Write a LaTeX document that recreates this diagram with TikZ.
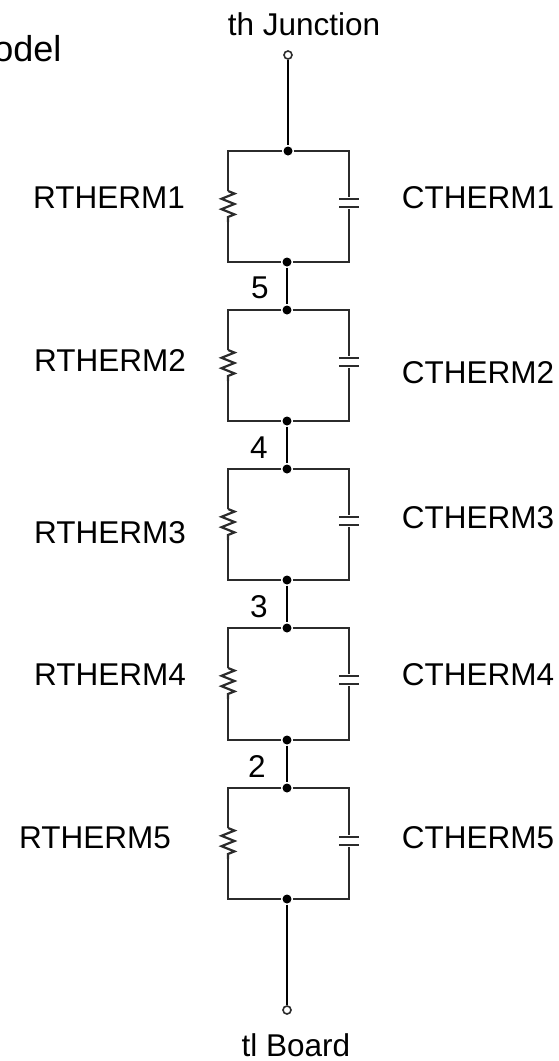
\documentclass[tikz,border=0pt]{standalone}
\usepackage{xcolor}
\usepackage{fontspec}
\setmainfont{Liberation Sans}
\usetikzlibrary{decorations.pathmorphing}
\definecolor{wire}{HTML}{2B2B2B}
\tikzset{
  dot/.style={circle,fill=black,inner sep=0pt,minimum size=9pt},
  terminal/.style={circle,draw=wire,fill=white,line width=1.6pt,inner sep=0pt,minimum size=8pt},
  plate/.style={rectangle,fill=wire,inner sep=0pt,minimum width=20pt,minimum height=2.2pt},
  label/.style={font=\fontsize{31.5}{36}\selectfont,text=black,inner sep=0pt},
  resistor/.style={decorate,decoration={zigzag,segment length=10.4pt,amplitude=6.5pt}}
}
\begin{document}
\begin{tikzpicture}[x=1pt,y=-1pt,line width=2.2pt,draw=wire]
        \useasboundingbox (0,0) rectangle (559,1061);
        \begin{scope}[every node/.style={label}]
          \node[anchor=base east,font=\fontsize{36}{40}\selectfont] (title) at (62.5,61) {odel};
          \node (junction) at (304,24) {th Junction};
          \node (board) at (296,1045) {tl Board};
          \node (rlabel1) at (109,198) {RTHERM1};
          \node (rlabel2) at (110,360) {RTHERM2};
          \node (rlabel3) at (110,533) {RTHERM3};
          \node (rlabel4) at (110,675) {RTHERM4};
          \node (rlabel5) at (95,838) {RTHERM5};
          \node (clabel1) at (478,198) {CTHERM1};
          \node (clabel2) at (478,373) {CTHERM2};
          \node (clabel3) at (478,518) {CTHERM3};
          \node (clabel4) at (478,675) {CTHERM4};
          \node (clabel5) at (478,838) {CTHERM5};
          \node (n5) at (260,288) {5};
          \node (n4) at (259,448) {4};
          \node (n3) at (259,607) {3};
          \node (n2) at (257,766) {2};
        \end{scope}
        \node[terminal] (tin) at (288,55) {};
        \node[terminal] (tout) at (287,1010) {};
        \begin{scope}[every node/.style={dot}]
          \node (t1) at (288,151) {};
          \node (b1) at (287,262) {};
          \node (t2) at (287,310) {};
          \node (b2) at (287,421) {};
          \node (t3) at (287,469) {};
          \node (b3) at (287,580) {};
          \node (t4) at (287,628) {};
          \node (b4) at (287,740) {};
          \node (t5) at (287,788) {};
          \node (b5) at (287,899) {};
        \end{scope}
        % resistor ends
        \coordinate (r1a) at (228,191);
        \coordinate (r1b) at (228,222);
        \coordinate (r2a) at (228,350);
        \coordinate (r2b) at (228,381);
        \coordinate (r3a) at (228,509);
        \coordinate (r3b) at (228,540);
        \coordinate (r4a) at (228,668);
        \coordinate (r4b) at (228,699);
        \coordinate (r5a) at (228,828);
        \coordinate (r5b) at (228,859);
        % capacitor plates
        \begin{scope}[every node/.style={plate}]
          \node (c1a) at (349,199) {};
          \node (c1b) at (349,207) {};
          \node (c2a) at (349,358) {};
          \node (c2b) at (349,366) {};
          \node (c3a) at (349,517) {};
          \node (c3b) at (349,525) {};
          \node (c4a) at (349,676) {};
          \node (c4b) at (349,684) {};
          \node (c5a) at (349,837) {};
          \node (c5b) at (349,845) {};
        \end{scope}
        % vertical links
        \draw[black] (tin) -- (t1);
        \draw[black] (b1) -- (t2);
        \draw[black] (b2) -- (t3);
        \draw[black] (b3) -- (t4);
        \draw[black] (b4) -- (t5);
        \draw[black] (b5) -- (tout);
        % stages
        \draw (t1) -| (r1a); \draw[resistor] (r1a) -- (r1b); \draw (r1b) |- (b1);
        \draw (t2) -| (r2a); \draw[resistor] (r2a) -- (r2b); \draw (r2b) |- (b2);
        \draw (t3) -| (r3a); \draw[resistor] (r3a) -- (r3b); \draw (r3b) |- (b3);
        \draw (t4) -| (r4a); \draw[resistor] (r4a) -- (r4b); \draw (r4b) |- (b4);
        \draw (t5) -| (r5a); \draw[resistor] (r5a) -- (r5b); \draw (r5b) |- (b5);
        \draw (t1) -| (c1a); \draw (c1b) |- (b1);
        \draw (t2) -| (c2a); \draw (c2b) |- (b2);
        \draw (t3) -| (c3a); \draw (c3b) |- (b3);
        \draw (t4) -| (c4a); \draw (c4b) |- (b4);
        \draw (t5) -| (c5a); \draw (c5b) |- (b5);
\end{tikzpicture}
\end{document}
